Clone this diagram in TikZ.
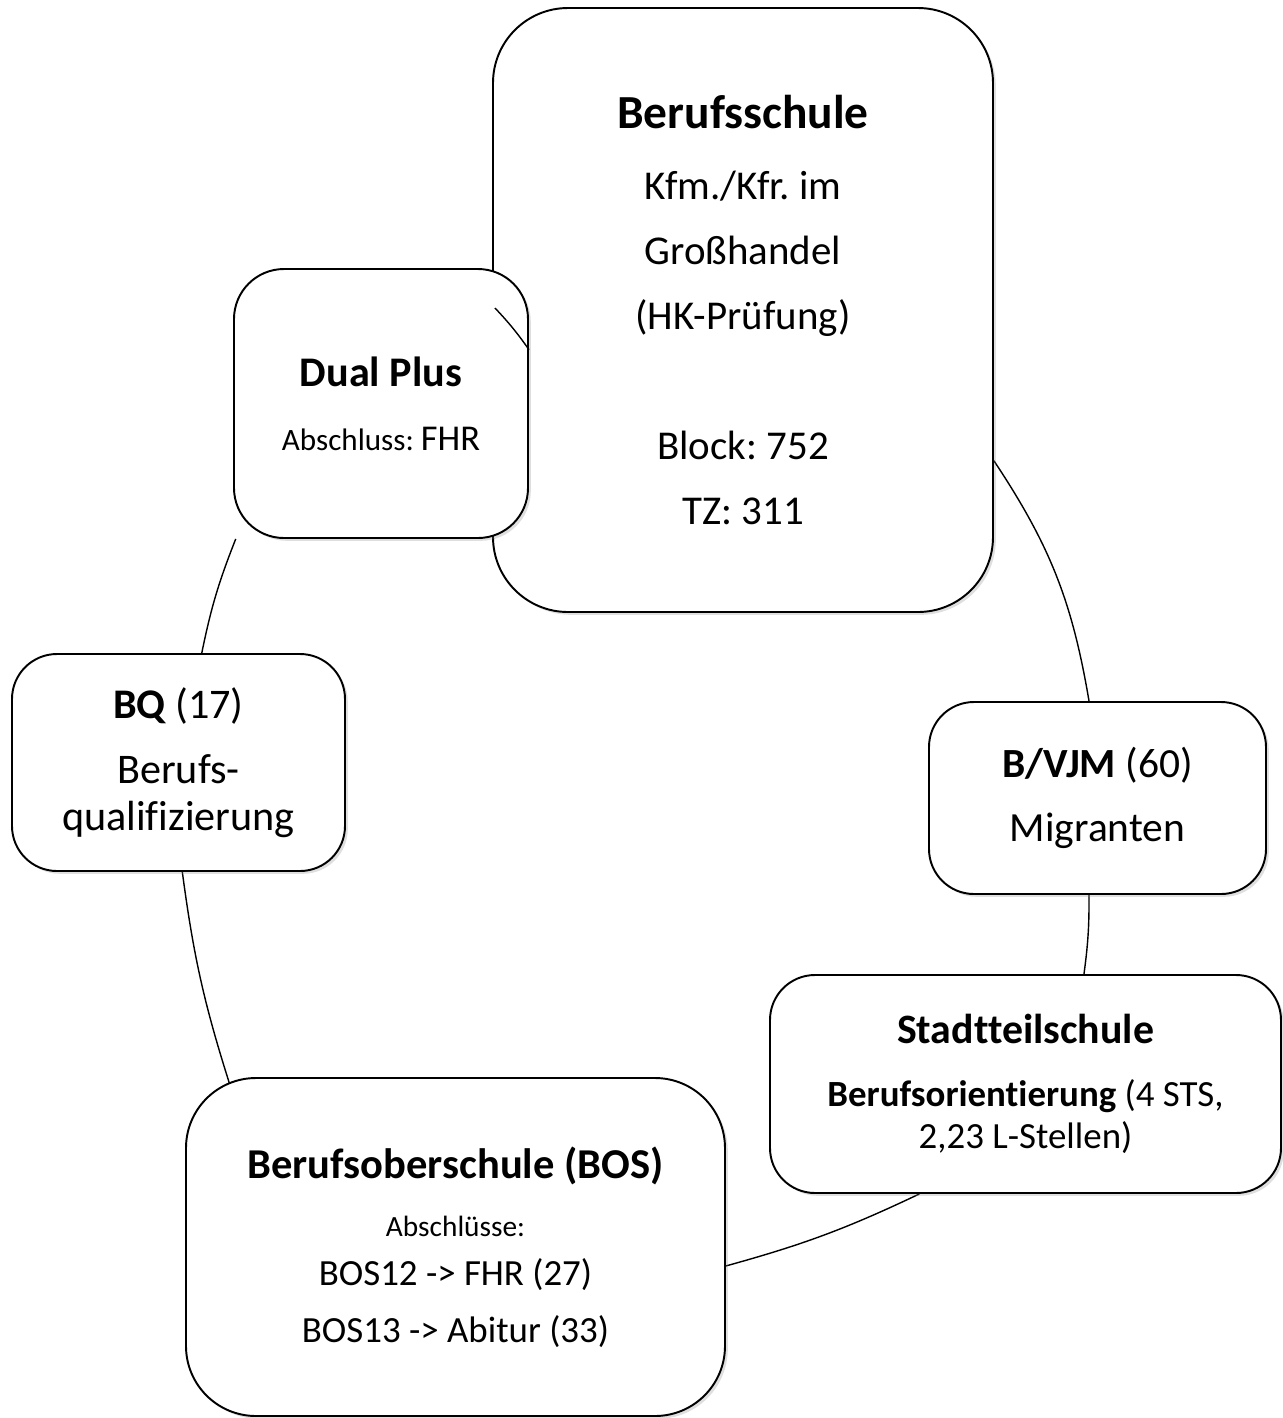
\documentclass[tikz,border=0pt]{standalone}
\usepackage{fontspec}
\setmainfont{Carlito}[Ligatures={NoCommon}]
\usetikzlibrary{shadows, backgrounds}
\frenchspacing

\begin{document}
\begin{tikzpicture}[
  box/.style={draw, line width=1.1pt, fill=white, rounded corners=0.9cm,
              align=center, inner sep=0pt,
              drop shadow={opacity=0.25, shadow xshift=1.6pt, shadow yshift=-1.6pt}},
  link/.style={line width=0.8pt}
]
\useasboundingbox (0,0) rectangle (25.66,-28.36);

%% ---- TOP: BERUFSSCHULE + DUAL PLUS ------------------------------
\node[box, rounded corners=1.5cm, minimum width=10cm, minimum height=12.08cm,
      font=\fontsize{23.3}{37}\selectfont] (schule) at (14.86,-6.20)
  {{\fontsize{27}{37}\selectfont\bfseries Berufsschule}\\[3.4pt]
   Kfm./Kfr. im\\ Großhandel\\ (HK-Prüfung)\\[37pt]
   Block: 752\\ TZ: 311};

\node[box, rounded corners=1cm, minimum width=5.88cm, minimum height=5.38cm,
      font=\fontsize{24}{36.4}\selectfont] (dual) at (7.62,-8.07)
  {{\bfseries Dual Plus}\\
   {\fontsize{17.7}{36.4}\selectfont Abschluss: }{\fontsize{20.7}{36.4}\selectfont FHR}};

%% ---- SIDES: BQ + B/VJM -----------------------------------------
\node[box, minimum width=6.66cm, minimum height=4.34cm,
      font=\fontsize{24}{26.7}\selectfont] (bq) at (3.57,-15.25)
  {{\bfseries BQ} (17)\\[10.3pt] Berufs-\\ qualifizierung};

\node[box, minimum width=6.74cm, minimum height=3.84cm,
      font=\fontsize{23.6}{36.4}\selectfont] (bvjm) at (21.95,-15.96)
  {{\bfseries B/VJM} (60)\\ Migranten};

%% ---- BOTTOM: STADTTEILSCHULE + BOS ------------------------------
\node[box, minimum width=10.22cm, minimum height=4.36cm,
      font=\fontsize{21}{24}\selectfont] (sts) at (20.51,-21.68)
  {{\fontsize{23.8}{24}\selectfont\bfseries Stadtteilschule}\\[12pt]
   {\bfseries Berufsorientierung} (4 STS,\\ 2,23 L-Stellen)};

\node[box, rounded corners=1.4cm, minimum width=10.78cm, minimum height=6.76cm,
      font=\fontsize{21}{28}\selectfont] (bos) at (9.11,-24.94)
  {{\fontsize{24.2}{28}\selectfont\bfseries Berufsoberschule (BOS)}\\[5pt]
   {\fontsize{16.7}{28}\selectfont Abschlüsse:}\\
   BOS12 -> FHR (27)\\[4.4pt] BOS13 -> Abitur (33)};

%% ---- RING OF LINKS ---------------------------------------------
\begin{scope}[on background layer]
  \draw[link] (schule.-31) to[bend left=12] (bvjm.95);
  \draw[link] (bvjm.-95)   to[bend left=4]  (sts.62);
  \draw[link] (sts.226.5)  to[bend left=5]  (bos.-4);
  \draw[link] ([yshift=-0.16cm]bos.143) to[bend left=5] (bq.-88);
  \draw[link] (bq.78)      to[bend left=5]  (dual.223.6);
\end{scope}

%% dual plus -> berufsschule (stub over the box)
\coordinate (dualtip) at (9.90,-6.16);
\draw[link] (dualtip) to[bend left=4] (dual.20);

\end{tikzpicture}
\end{document}
